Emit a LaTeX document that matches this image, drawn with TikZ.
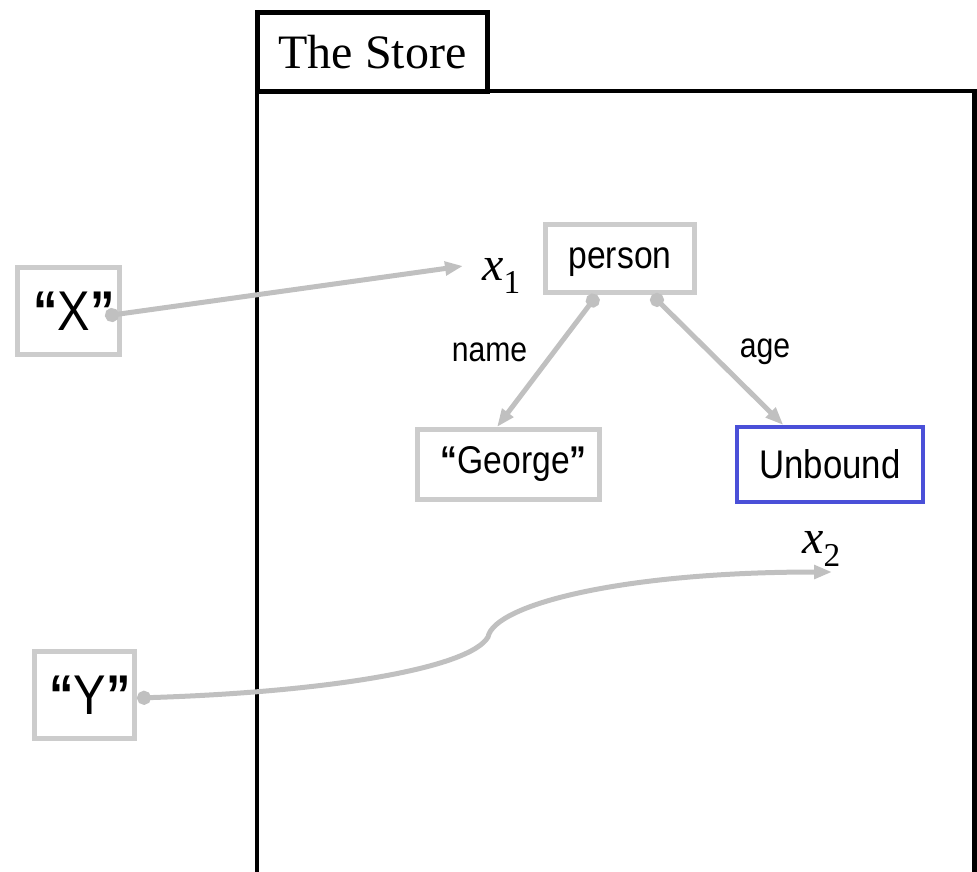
\documentclass[tikz,border=0pt]{standalone}
\usepackage{fontspec}
\setmainfont{Liberation Serif}
\newfontfamily\boxfont[FakeStretch=0.87]{Liberation Sans}
\newfontfamily\quotefont[FakeStretch=0.87]{Liberation Sans Bold}
\usetikzlibrary{positioning, arrows.meta}
\definecolor{linkgray}{RGB}{192,192,192}
\definecolor{boxgray}{RGB}{204,204,204}
\definecolor{unboundblue}{RGB}{74,80,216}
\newcommand{\storevar}[2]{\textit{#1}\raisebox{-10pt}{\fontsize{25}{26}\selectfont #2}}
\newcommand{\quoted}[1]{\hspace*{8pt}{\quotefont “}#1{\quotefont ”}}
\tikzset{%
  valbox/.style={draw=boxgray, line width=3.75pt, inner sep=0pt},
  bigval/.style={valbox, minimum height=65.25pt,
    font={\boxfont\fontsize{42}{46}\selectfont}},
  cell/.style={valbox, font={\boxfont\fontsize{29}{32}\selectfont}},
  fieldlabel/.style={inner sep=0pt, font={\boxfont\fontsize{26}{28}\selectfont}},
  storevar/.style={anchor=base west, inner sep=0pt,
    font=\fontsize{36}{40}\selectfont},
  storeline/.style={draw=black, line width=3.5pt},
  link/.style={draw=linkgray, line width=3.75pt,
    {Circle[length=10.5pt]}-{Triangle[length=13.5pt, width=10pt]}},
  every edge/.style={link}
}
\begin{document}
\begin{tikzpicture}[x=0.75pt, y=-0.75pt]
    \useasboundingbox (0,0) rectangle (977,871);

    % the store
    \draw[storeline] (257,875) -- (257,91) -- (974.5,91) -- (974.5,875);
    \node[draw, line width=3.75pt, fill=white, minimum width=173pt,
      minimum height=59pt, font=\fontsize{36}{40}\selectfont]
      (title) at (372.5,51.75) {The Store};

    % variables outside the store
    \node[bigval, minimum width=76.5pt] (X) at (68.5,311) {\quoted{X}};
    \node[bigval, minimum width=75pt] (Y) at (84.5,695) {\quoted{Y}};

    % record in the store
    \node[cell, minimum width=111.75pt, minimum height=51pt, text depth=0pt]
      (person) at (620,258.5) {person};
    \node[cell, minimum width=136.5pt, minimum height=52.5pt]
      (George) at (508.5,464.5) {\quoted{George}};
    \node[cell, draw=unboundblue, line width=3pt, minimum width=139.5pt,
      minimum height=56.25pt, font={\boxfont\fontsize{30}{32}\selectfont}]
      (Unbound) at (830,464.5) {Unbound};
    \node[fieldlabel] (name) at (489.5,352) {name};
    \node[fieldlabel] (age) at (765,352) {age};

    \node[storevar] (x1) at (482,280) {\storevar{x}{1}};
    \node[storevar] (x2) at (802,553) {\storevar{x}{2}};
    \coordinate (x1tip) at (463,266);
    \coordinate (x2tip) at (832,572);
    \coordinate (ykink) at (488,637);

    \draw
      ([xshift=-12.75pt, yshift=-3.75pt]X.east) edge (x1tip)
      ([xshift=-17.25pt]person.south) edge ([xshift=-8.6pt]George.north)
      ([xshift=24pt]person.south) edge ([xshift=-35pt]Unbound.north)
    ;
    \draw[link] ([yshift=-2.25pt]Y.east) .. controls (330,692) and (470,668)
      .. (ykink) .. controls (494,605) and (620,572) .. (x2tip);

\end{tikzpicture}
\end{document}
